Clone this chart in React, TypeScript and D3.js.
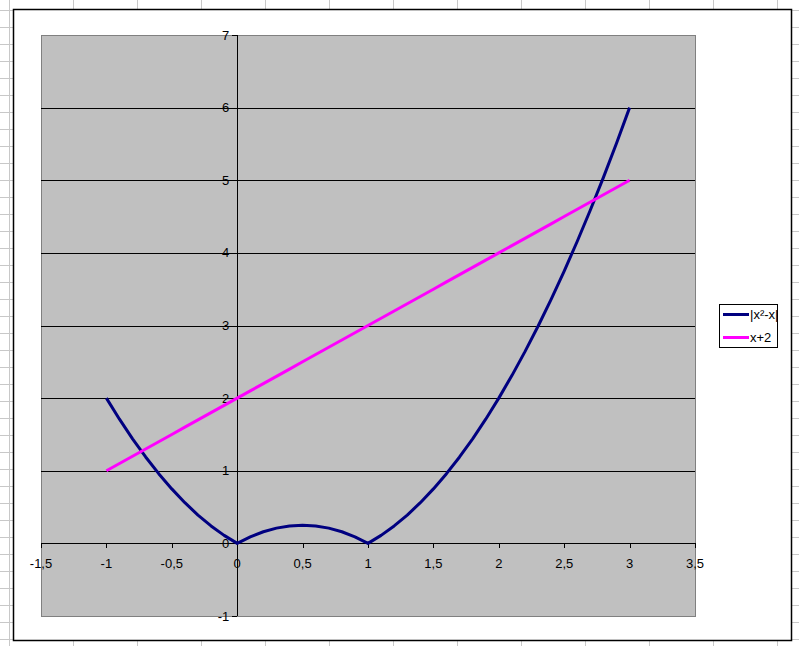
import React from "react";
import * as d3 from "d3";

const xValues = [
  -1, -0.9, -0.8, -0.7, -0.6, -0.5, -0.4, -0.3, -0.2, -0.1, 0, 0.1, 0.2, 0.3, 0.4, 0.5, 0.6, 0.7, 0.8, 0.9, 1,
  1.1, 1.2, 1.3, 1.4, 1.5, 1.6, 1.7, 1.8, 1.9, 2, 2.1, 2.2, 2.3, 2.4, 2.5, 2.6, 2.7, 2.8, 2.9, 3,
];
const absSeries = [
  2, 1.71, 1.44, 1.19, 0.96, 0.75, 0.56, 0.39, 0.24, 0.11, 0, 0.09, 0.16, 0.21, 0.24, 0.25, 0.24, 0.21, 0.16, 0.09, 0,
  0.11, 0.24, 0.39, 0.56, 0.75, 0.96, 1.19, 1.44, 1.71, 2, 2.31, 2.64, 2.99, 3.36, 3.75, 4.16, 4.59, 5.04, 5.51, 6,
];
const lineSeries = [
  1, 1.1, 1.2, 1.3, 1.4, 1.5, 1.6, 1.7, 1.8, 1.9, 2, 2.1, 2.2, 2.3, 2.4, 2.5, 2.6, 2.7, 2.8, 2.9, 3,
  3.1, 3.2, 3.3, 3.4, 3.5, 3.6, 3.7, 3.8, 3.9, 4, 4.1, 4.2, 4.3, 4.4, 4.5, 4.6, 4.7, 4.8, 4.9, 5,
];
const xTicks = [-1.5, -1, -0.5, 0, 0.5, 1, 1.5, 2, 2.5, 3, 3.5];
const yTicks = [-1, 0, 1, 2, 3, 4, 5, 6, 7];
const seriesNames = ["|x²-x|", "x+2"];
const seriesColors = ["#000080", "#FF00FF"];

const W = 799;
const H = 646;

export default function App() {
  const x = d3.scaleLinear().domain([-1.5, 3.5]).range([41, 695]);
  const y = d3.scaleLinear().domain([-1, 7]).range([616, 35]);
  const fmt = (v: number) => String(v).replace(".", ",");
  const line = d3
    .line<[number, number]>()
    .x((d) => x(d[0]))
    .y((d) => y(d[1]));
  const seriesData = [absSeries, lineSeries].map((s) => s.map((v, i) => [xValues[i], v] as [number, number]));

  const rows: number[] = [];
  for (let yy = 10; yy < H; yy += 17) rows.push(yy);
  const cols: number[] = [];
  for (let xx = 9; xx < W; xx += 64) cols.push(xx);

  const font = "Arial, 'Liberation Sans', sans-serif";

  return (
    <svg
      width={W}
      height={H}
      style={{ position: "absolute", left: 0, top: 0, display: "block", background: "#fff" }}
    >
      {rows.map((r) => (
        <line key={"r" + r} x1={0} x2={W} y1={r + 0.5} y2={r + 0.5} stroke="#c8c8c8" strokeWidth={1} />
      ))}
      {cols.map((c) => (
        <line key={"c" + c} x1={c + 0.5} x2={c + 0.5} y1={0} y2={H} stroke="#c8c8c8" strokeWidth={1} />
      ))}
      <rect x={13.5} y={9.5} width={778} height={631} fill="#fff" stroke="#000" strokeWidth={1.5} />
      <rect x={41.5} y={35.5} width={654} height={581} fill="#C0C0C0" stroke="#808080" strokeWidth={1} />
      {yTicks
        .filter((t) => t > 0 && t < 7)
        .map((t) => (
          <line key={"g" + t} x1={41} x2={695} y1={Math.round(y(t)) + 0.5} y2={Math.round(y(t)) + 0.5} stroke="#000" strokeWidth={1} />
        ))}
      <line x1={41} x2={695} y1={Math.round(y(0)) + 0.5} y2={Math.round(y(0)) + 0.5} stroke="#000" strokeWidth={1} />
      {xTicks.map((t) => (
        <g key={"xt" + t}>
          <line
            x1={Math.round(x(t)) + 0.5}
            x2={Math.round(x(t)) + 0.5}
            y1={Math.round(y(0))}
            y2={Math.round(y(0)) + 5}
            stroke="#000"
            strokeWidth={1}
          />
          <text x={x(t)} y={y(0) + 25} textAnchor="middle" fontFamily={font} fontSize={13} fill="#000">
            {fmt(t)}
          </text>
        </g>
      ))}
      <line x1={Math.round(x(0)) + 0.5} x2={Math.round(x(0)) + 0.5} y1={35} y2={616} stroke="#000" strokeWidth={1} />
      {yTicks.map((t) => (
        <g key={"yt" + t}>
          <line
            x1={Math.round(x(0)) - 5}
            x2={Math.round(x(0))}
            y1={Math.round(y(t)) + 0.5}
            y2={Math.round(y(t)) + 0.5}
            stroke="#000"
            strokeWidth={1}
          />
          <text x={x(0) - 8} y={y(t) + 4.5} textAnchor="end" fontFamily={font} fontSize={13} fill="#000">
            {fmt(t)}
          </text>
        </g>
      ))}
      {seriesData.map((d, i) => (
        <path
          key={"s" + i}
          d={line(d) || ""}
          fill="none"
          stroke={seriesColors[i]}
          strokeWidth={3}
          strokeLinejoin="round"
        />
      ))}
      <rect x={719.5} y={304.5} width={58} height={43} fill="#fff" stroke="#000" strokeWidth={1} />
      {seriesNames.map((n, i) => (
        <g key={"l" + i}>
          <line x1={723} x2={749} y1={314.5 + i * 23} y2={314.5 + i * 23} stroke={seriesColors[i]} strokeWidth={3} />
          <text x={750} y={319 + i * 23} fontFamily={font} fontSize={13} fill="#000">
            {n}
          </text>
        </g>
      ))}
    </svg>
  );
}
